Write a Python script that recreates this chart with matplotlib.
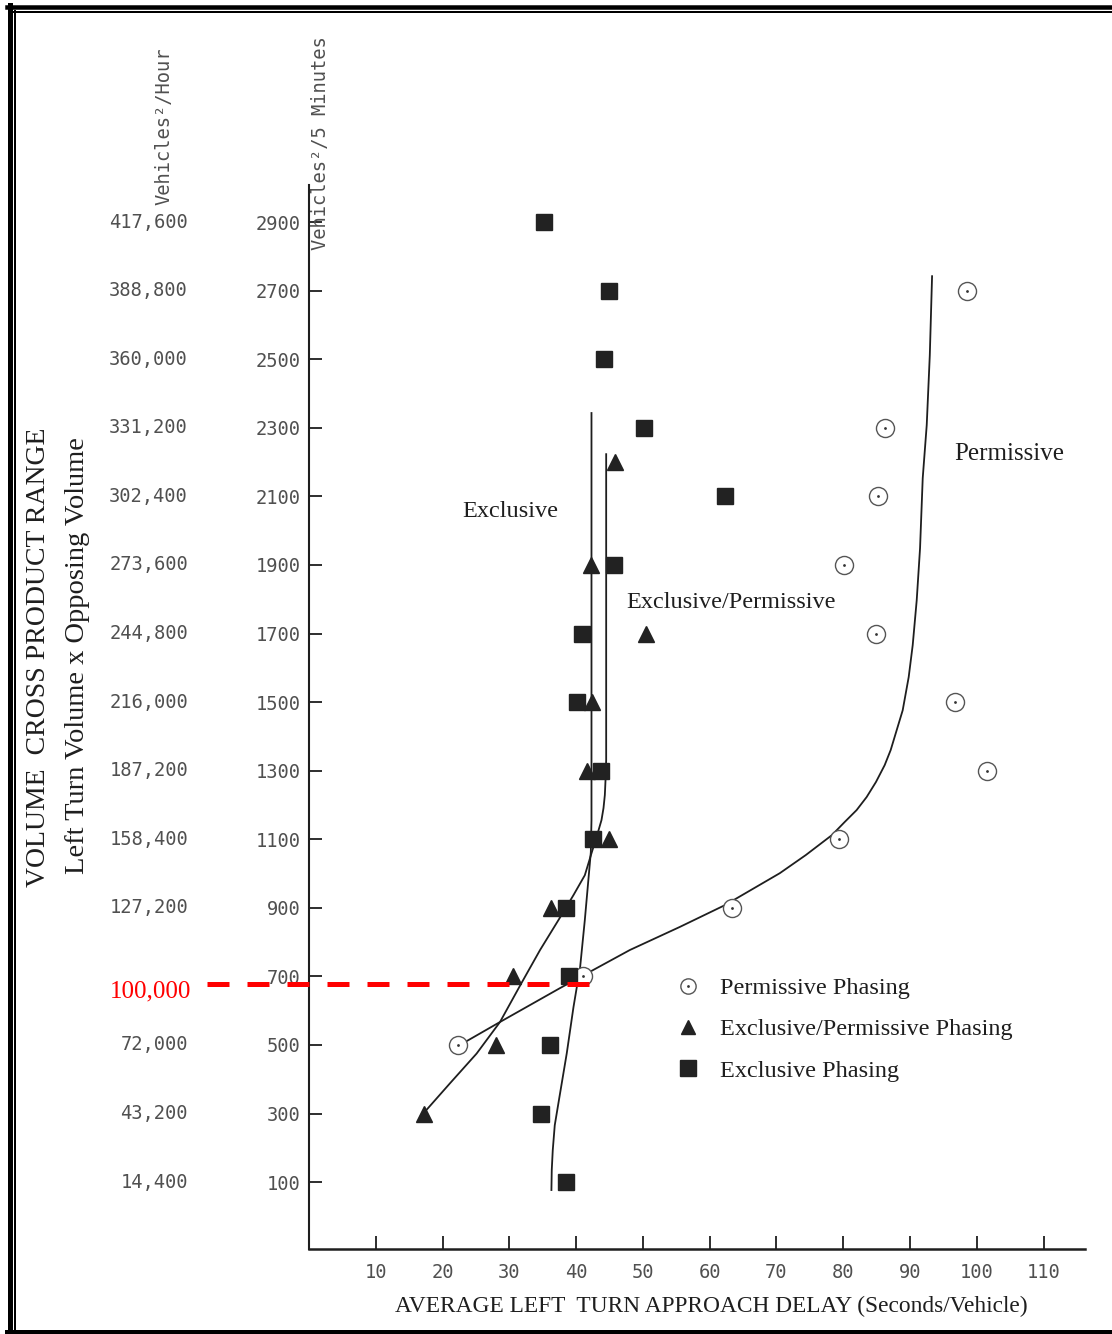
import matplotlib
matplotlib.use("Agg")
import matplotlib.pyplot as plt
from matplotlib.lines import Line2D

W, H, DPI = 1112, 1334, 100

# --- data (delay in s/veh, cross product in veh^2/5 min)
excl_y = [2900, 2700, 2500, 2300, 2100, 1900, 1700, 1500, 1300, 1100, 900, 700, 500, 300, 100]
excl_x = [35.2, 44.9, 44.2, 50.1, 62.3, 45.7, 40.9, 40.1, 43.7, 42.5, 38.5, 38.9, 36.1, 34.7, 38.5]

ep_y = [2200, 1900, 1700, 1500, 1300, 1100, 900, 700, 500, 300]
ep_x = [45.8, 42.2, 50.4, 42.4, 41.6, 44.9, 36.2, 30.5, 28.0, 17.2]

perm_y = [2700, 2300, 2100, 1900, 1700, 1500, 1300, 1100, 900, 700, 500]
perm_x = [98.5, 86.2, 85.2, 80.1, 84.9, 96.7, 101.6, 79.4, 63.3, 41.0, 22.3]

# hand-drawn fitted curves
excl_cx = [36.3, 36.35, 36.5, 36.8, 37.5, 38.6, 39.6, 40.6, 41.3, 42.2, 42.3, 42.3]
excl_cy = [77, 135, 193, 266, 348, 476, 610, 727, 864, 1062, 1156, 2343]

ep_cx = [17.2, 21.1, 25.1, 28.6, 31.8, 34.6, 38.1, 39.6, 41.3, 42.3, 43.1, 43.8, 44.1,
         44.3, 44.4, 44.5, 44.5]
ep_cy = [302, 388, 475, 567, 680, 777, 888, 937, 995, 1059, 1109, 1156, 1191,
         1229, 1272, 1331, 2223]

perm_cx = [23.05, 28.6, 37.6, 48.05, 55.5, 62.3, 70.5, 74.4, 78.3, 80.2, 82.0, 83.5,
           84.9, 86.2, 87.1, 88.0, 88.9, 89.8, 90.4, 91.0, 91.5, 91.9, 92.5, 92.96, 93.3]
perm_cy = [505, 567, 666, 777, 844, 908, 1001, 1054, 1112, 1150, 1185, 1223,
           1267, 1316, 1360, 1418, 1476, 1573, 1666, 1797, 1949, 2153, 2308, 2512, 2742]

y_ticks = [100, 300, 500, 700, 900, 1100, 1300, 1500, 1700, 1900, 2100, 2300, 2500, 2700, 2900]
x_ticks = [10, 20, 30, 40, 50, 60, 70, 80, 90, 100, 110]

hour_pos = [100, 300, 500, 900, 1100, 1300, 1500, 1700, 1900, 2100, 2300, 2500, 2700, 2900]
hour_labels = ["14,400", "43,200", "72,000", "127,200", "158,400", "187,200", "216,000",
               "244,800", "273,600", "302,400", "331,200", "360,000", "388,800", "417,600"]

threshold_y = 677          # red 100,000 veh^2/h line, as drawn
threshold_x = (-15.3, 43.3)

MONO = "DejaVu Sans Mono"
SERIF = "Liberation Serif"
GRAY = "#505050"
INK = "#1e1e1e"


def fx(px):
    return px / W


def fy(py):
    return 1 - py / H


fig = plt.figure(figsize=(W / DPI, H / DPI), dpi=DPI)
fig.patch.set_facecolor("white")
ax = fig.add_axes([fx(309), fy(1249), (1085 - 309) / W, (1249 - 185) / H])
ax.set_xlim(0, 116.2)
ax.set_ylim(-95, 3008)

for s in ("top", "right"):
    ax.spines[s].set_visible(False)
ax.spines["left"].set_linewidth(1.5)
ax.spines["bottom"].set_linewidth(1.8)
ax.spines["left"].set_color(INK)
ax.spines["bottom"].set_color(INK)

ax.set_xticks(x_ticks)
ax.set_yticks(y_ticks)
ax.tick_params(axis="both", direction="in", color=INK, width=1.3, labelcolor=GRAY)
ax.tick_params(axis="y", length=9, pad=6)
ax.tick_params(axis="x", length=9.5, pad=10)
for lab in ax.get_xticklabels() + ax.get_yticklabels():
    lab.set_fontfamily(MONO)
    lab.set_fontsize(13.5)

# curves
for cx, cy in ((excl_cx, excl_cy), (ep_cx, ep_cy), (perm_cx, perm_cy)):
    ax.plot(cx, cy, color=INK, lw=1.3, zorder=2, solid_joinstyle="round")

# points
ax.plot(perm_x, perm_y, ls="none", marker="o", ms=13, mfc="white",
        mec="#555555", mew=1.0, zorder=3)
ax.plot(perm_x, perm_y, ls="none", marker="o", ms=2, mfc="#333333",
        mec="none", zorder=3.1)
ax.plot(excl_x, excl_y, ls="none", marker="s", ms=11.5, color="#222222", zorder=4)
ax.plot(ep_x, ep_y, ls="none", marker="^", ms=11.5, color="#222222", zorder=4)

# red threshold line
ax.plot(threshold_x, [threshold_y, threshold_y], color="#ff0000", lw=3.6,
        ls=(0, (4.4, 3.6)), dash_capstyle="butt", clip_on=False, zorder=5)
ax.text(-17.6, threshold_y - 20, "100,000", color="#ff0000", fontsize=18,
        family=SERIF, ha="right", va="center", clip_on=False)

# vehicles^2/hour column
ytr = ax.get_yaxis_transform()
for yv, lab in zip(hour_pos, hour_labels):
    ax.text((188 - 309) / 776, yv, lab, transform=ytr, ha="right", va="center",
            fontsize=13.5, family=MONO, color=GRAY)

fig.text(fx(164), fy(205), "Vehicles²/Hour", rotation=90, ha="center", va="bottom",
         fontsize=13.5, family=MONO, color=GRAY)
fig.text(fx(320), fy(250), "Vehicles²/5 Minutes", rotation=90, ha="center", va="bottom",
         fontsize=13.5, family=MONO, color=GRAY)

fig.text(fx(39), fy(657), "VOLUME  CROSS PRODUCT RANGE", rotation=90, ha="center",
         va="center", fontsize=20, family=SERIF, color=INK)
fig.text(fx(78), fy(656), "Left Turn Volume x Opposing Volume", rotation=90, ha="center",
         va="center", fontsize=20.5, family=SERIF, color=INK)
fig.text(fx(711), fy(1306), "AVERAGE LEFT  TURN APPROACH DELAY (Seconds/Vehicle)",
         ha="center", va="center", fontsize=16.8, family=SERIF, color=INK)

# curve labels
ax.text(30.1, 2057, "Exclusive", fontsize=17.5, family=SERIF, color=INK, ha="center", va="center")
ax.text(63.2, 1789, "Exclusive/Permissive", fontsize=17.5, family=SERIF, color=INK,
        ha="center", va="center")
ax.text(104.9, 2223, "Permissive", fontsize=18, family=SERIF, color=INK, ha="center", va="center")

# legend
leg_c = Line2D([], [], ls="none", marker="o", ms=11, mfc="white", mec="#555555", mew=1.0)
leg_d = Line2D([], [], ls="none", marker="o", ms=2, mfc="#333333", mec="none")
leg_t = Line2D([], [], ls="none", marker="^", ms=10.5, color="#222222")
leg_s = Line2D([], [], ls="none", marker="s", ms=11, color="#222222")
leg = ax.legend([(leg_c, leg_d), leg_t, leg_s],
                ["Permissive Phasing", "Exclusive/Permissive Phasing", "Exclusive Phasing"],
                loc="upper left", bbox_to_anchor=(fx(673), fy(977)),
                bbox_transform=fig.transFigure, frameon=False, borderpad=0,
                borderaxespad=0, handlelength=1.2, handletextpad=0.72,
                labelspacing=0.8, prop={"family": SERIF, "size": 17.5})
for t in leg.get_texts():
    t.set_color(INK)

# double frame round the scan
frame = [
    ((7, W), (7, 7), 4.5), ((9.5, 9.5), (5, H), 5.0),
    ((13.5, W), (12, 12), 2.0), ((14.8, 14.8), (11, H), 2.0),
    ((7, W), (1332, 1332), 4.0),
]
for xs, ys, lw in frame:
    fig.add_artist(Line2D([fx(v) for v in xs], [fy(v) for v in ys], color="black",
                          lw=lw * 0.72, transform=fig.transFigure))

fig.savefig("out.png", dpi=DPI, facecolor="white")
